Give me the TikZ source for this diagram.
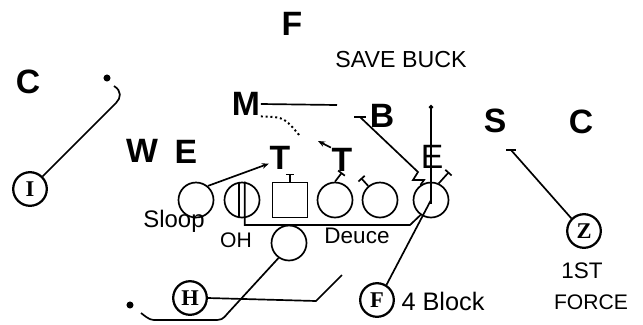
\documentclass[tikz,border=0pt]{standalone}
\usepackage{fontspec}
\setmainfont{Liberation Sans}
\newfontfamily\platefont{Liberation Serif}
\usetikzlibrary{arrows.meta}

\begin{document}
\begin{tikzpicture}[x=0.025cm, y=-0.025cm, line width=1.2pt,
    defender/.style={font=\bfseries\fontsize{24}{24}\selectfont, inner sep=0pt},
    callout/.style={font=\fontsize{15}{15}\selectfont, inner sep=0pt},
    lineman/.style={draw, circle, minimum size=0.875cm, inner sep=0pt},
    snapbox/.style={draw, minimum size=0.875cm, inner sep=0pt},
    skill/.style={draw, circle, line width=1.6pt, minimum size=0.84cm, inner sep=0pt,
                  font=\platefont\bfseries\fontsize{16}{16}\selectfont},
    dotmark/.style={circle, fill, inner sep=0pt, minimum size=5pt},
    block/.style={-{Bar[width=6pt]}},
    route/.style={-{Stealth[length=5pt, width=4pt]}}]
  \useasboundingbox (0,0) rectangle (643,324);

  % defence
  \foreach \nm/\x/\y/\lbl in {%
      dF/292/24/F,   dCL/28/82/C,   dM/246/104/M,  dB/382/116/B,
      dS/495/121/S,  dCR/581/122/C, dW/142/151/W,  dEL/186/152/E,
      dTL/280/158/T, dTR/342/160/T}
    \node[defender] (\nm) at (\x,\y) {\lbl};
  \node[defender, font=\fontsize{24}{24}\selectfont] (dER) at (432,157) {E};

  % offence
  \foreach \nm/\x in {slo/196, oh/242, og/335, ot/380, te/431}
    \node[lineman] (\nm) at (\x,200) {};
  \node[snapbox] (ctr) at (290,200) {};
  \node[lineman] (rb) at (289,243) {};
  \node[skill] (xr) at (30,189) {I};
  \node[skill] (hb) at (190,298) {H};
  \node[skill] (fb) at (377,300) {F};
  \node[skill] (zr) at (584,231) {Z};

  % texts
  \node[callout, font=\fontsize{16.5}{16.5}\selectfont] (cSave) at (401,60) {SAVE BUCK};
  \node[callout, font=\fontsize{17}{17}\selectfont] (cSloop) at (174,221) {Sloop};
  \node[callout] (cOH)    at (236,240) {OH};
  \node[callout, font=\fontsize{16}{16}\selectfont] (cDeuce) at (357,236) {Deuce};
  \node[callout, font=\fontsize{18}{18}\selectfont] (cBlock) at (443,301) {4 Block};
  \node[callout, font=\fontsize{16}{16}\selectfont] (cFirst) at (582,271) {1ST};
  \node[callout] (cForce) at (591,302) {FORCE};

  % X route
  \node[dotmark] (xrDot) at (107,78) {};
  \coordinate (xrTurn) at (116,103);
  \coordinate (xrEnd) at (114,86);
  \draw (xr.45) -- (xrTurn) .. controls (121,98) and (122,91) .. (xrEnd);

  % M and B
  \coordinate (mEnd) at (337,105);
  \draw (dM.east) -- (mEnd);
  \coordinate (mDrop) at (300,136);
  \draw[dotted, line width=1.4pt] (dM.south east) .. controls (284,117) .. (mDrop);
  \coordinate (bBlk) at (360,117);
  \coordinate (teKick) at (418,172);
  \draw (te.125) -- (424,180) -- (413,180) -- (teKick) -- (bBlk);
  \draw (bBlk) ++(-6,0) -- ++(12,0);

  % tight end
  \coordinate (teTop) at (431,105);
  \draw[-{Circle[length=3pt]}] ([yshift=-3pt]te.center) -- (teTop);
  \coordinate (teBlk) at (449,172);
  \draw[block] (te.65) -- (teBlk);

  % line blocks
  \draw[route] (slo.50) -- ([yshift=-4pt]dTL.west);
  \draw[block] (ctr.north) -- ++(0,-8);
  \draw[block] (og.north) -- (dTR.south);
  \coordinate (t2Go) at (318,141);
  \draw[route] (dTR.north west) -- (t2Go);
  \coordinate (otBlk) at (361,178);
  \draw[block] (ot.130) -- (otBlk);

  % OH pull
  \coordinate (ohRun) at (410,225);
  \draw ([xshift=-2pt]oh.north) -- ([xshift=-2pt]oh.south);
  \draw ([xshift=2pt]oh.north) |- (ohRun) -- (te.235);

  % backs
  \node[dotmark] (rbDot) at (130,305) {};
  \coordinate (rbBend) at (228,313);
  \coordinate (rbEnd) at (141,313);
  \draw (rb.235) -- (rbBend) .. controls (222,320) .. (212,320) -- (158,320)
        .. controls (150,320) .. (rbEnd);
  \coordinate (hbRun) at (316,301);
  \coordinate (hbEnd) at (342,275);
  \draw (hb.east) -- (hbRun) -- (hbEnd);
  \draw (fb.58) -- (te.center);

  % Z route
  \coordinate (zrBlk) at (511,150);
  \draw (zr.135) -- (zrBlk);
  \draw (zrBlk) ++(-5,0) -- ++(10,0);
\end{tikzpicture}
\end{document}
